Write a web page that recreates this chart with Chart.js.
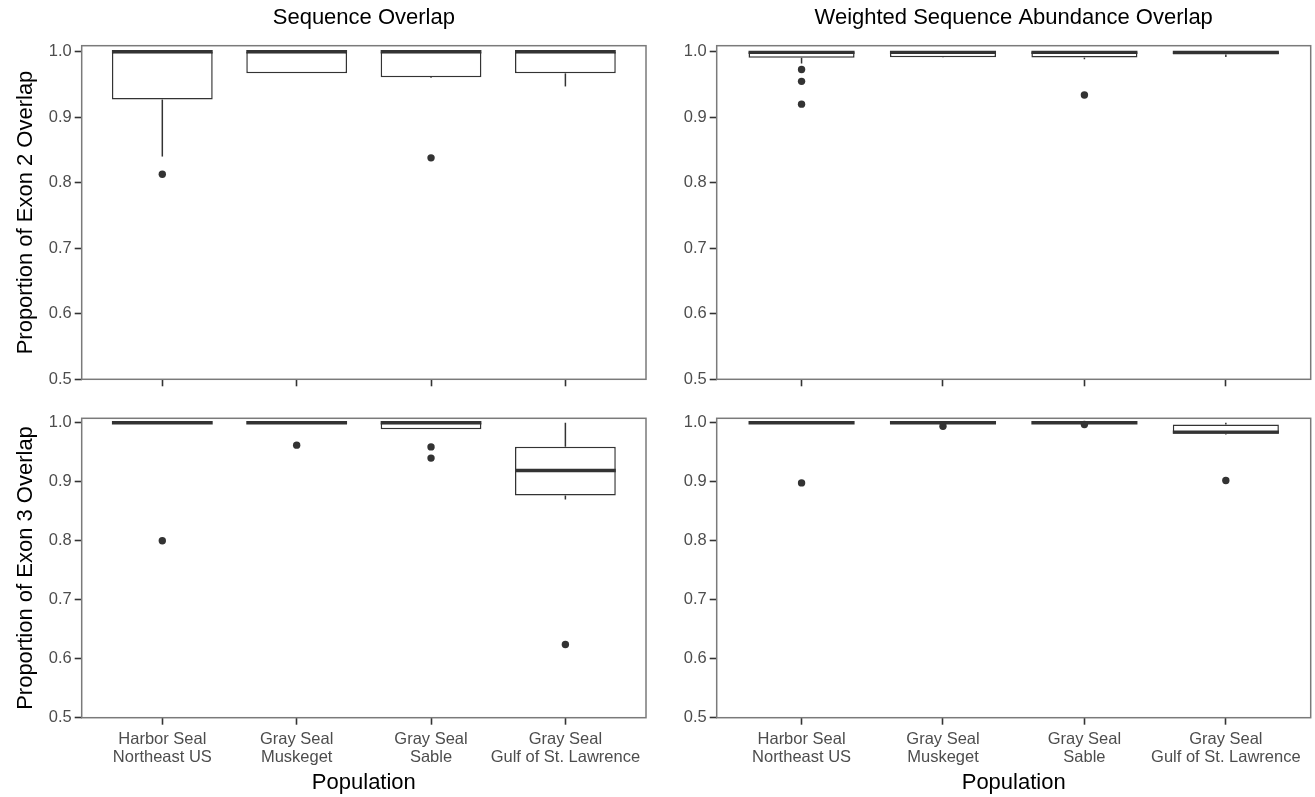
<!DOCTYPE html>
<html><head><meta charset="utf-8">
<script src="https://cdn.jsdelivr.net/npm/chart.js@4"></script>
<style>
html,body{margin:0;padding:0;background:#fff;width:1315px;height:797px;overflow:hidden}
canvas{position:absolute}
</style></head><body>
<canvas id="c1" width="660" height="398" style="left:0;top:0"></canvas>
<canvas id="c2" width="659" height="398" style="left:656px;top:0"></canvas>
<canvas id="c3" width="660" height="399" style="left:0;top:398px"></canvas>
<canvas id="c4" width="659" height="399" style="left:656px;top:398px"></canvas>
<script>
// ---- data ----
const categories = [['Harbor Seal','Northeast US'],['Gray Seal','Muskeget'],['Gray Seal','Sable'],['Gray Seal','Gulf of St. Lawrence']];
const yTicks = [0.5, 0.6, 0.7, 0.8, 0.9, 1.0];
const panelTitles = ['Sequence Overlap', 'Weighted Sequence Abundance Overlap'];
const yTitles = ['Proportion of Exon 2 Overlap', 'Proportion of Exon 3 Overlap'];
const xTitle = 'Population';

// Exon 2, sequence overlap
const e2SeqLow  = [0.840, 0.967, 0.960, 0.947];
const e2SeqQ1   = [0.927, 0.967, 0.961, 0.967];
const e2SeqMed  = [1.000, 1.000, 1.000, 1.000];
const e2SeqQ3   = [1.000, 1.000, 1.000, 1.000];
const e2SeqHigh = [1.000, 1.000, 1.000, 1.000];
const e2SeqOutCat = [0, 2];
const e2SeqOutVal = [0.813, 0.838];

// Exon 2, weighted sequence abundance overlap
const e2WtLow  = [0.982, 0.991, 0.9885, 0.992];
const e2WtQ1   = [0.9908, 0.9915, 0.991, 0.9958];
const e2WtMed  = [0.999, 0.999, 0.999, 0.999];
const e2WtQ3   = [1.000, 1.000, 1.000, 1.000];
const e2WtHigh = [1.000, 1.000, 1.000, 1.000];
const e2WtOutCat = [0, 0, 0, 2];
const e2WtOutVal = [0.9728, 0.9548, 0.920, 0.934];

// Exon 3, sequence overlap
const e3SeqLow  = [1.000, 1.000, 0.989, 0.870];
const e3SeqQ1   = [1.000, 1.000, 0.989, 0.8765];
const e3SeqMed  = [1.000, 1.000, 1.000, 0.919];
const e3SeqQ3   = [1.000, 1.000, 1.000, 0.9592];
const e3SeqHigh = [1.000, 1.000, 1.000, 1.000];
const e3SeqOutCat = [0, 1, 2, 2, 3];
const e3SeqOutVal = [0.800, 0.962, 0.959, 0.940, 0.624];

// Exon 3, weighted sequence abundance overlap
const e3WtLow  = [1.000, 1.000, 1.000, 0.980];
const e3WtQ1   = [1.000, 1.000, 1.000, 0.9814];
const e3WtMed  = [1.000, 1.000, 1.000, 0.984];
const e3WtQ3   = [1.000, 1.000, 1.000, 0.997];
const e3WtHigh = [1.000, 1.000, 1.000, 1.000];
const e3WtOutCat = [0, 1, 2, 3];
const e3WtOutVal = [0.898, 0.994, 0.997, 0.902];

// ---- styling ----
const FONT = "'Liberation Sans', Arial, Helvetica, sans-serif";
const LINE = '#333333';
const TICKTXT = '#4d4d4d';
const FRAME = '#7a7a7a';
Chart.defaults.font.family = FONT;

function boxPlugin(low, q1, med, q3, high) {
  return {
    id: 'boxparts',
    beforeDatasetsDraw(chart) {
      const {ctx, scales: {x, y}} = chart;
      ctx.save();
      ctx.strokeStyle = LINE; ctx.lineWidth = 1.5;
      low.forEach((v, i) => {
        const px = x.getPixelForValue(i + 1);
        ctx.beginPath();
        ctx.moveTo(px, y.getPixelForValue(q3[i])); ctx.lineTo(px, y.getPixelForValue(high[i]));
        ctx.moveTo(px, y.getPixelForValue(q1[i])); ctx.lineTo(px, y.getPixelForValue(low[i]));
        ctx.stroke();
      });
      ctx.restore();
    },
    afterDatasetDraw(chart, args) {
      if (args.index !== 0) return;
      const {ctx, scales: {x, y}} = chart;
      const meta = chart.getDatasetMeta(0);
      ctx.save();
      ctx.strokeStyle = LINE; ctx.lineWidth = 3.4;
      med.forEach((v, i) => {
        const el = meta.data[i];
        const px = x.getPixelForValue(i + 1);
        const hw = el.width / 2;
        const py = y.getPixelForValue(v);
        ctx.beginPath(); ctx.moveTo(px - hw, py); ctx.lineTo(px + hw, py); ctx.stroke();
      });
      ctx.restore();
    },
    afterDatasetsDraw(chart) {
      const {ctx, chartArea: a} = chart;
      ctx.save();
      ctx.strokeStyle = FRAME; ctx.lineWidth = 1.5;
      ctx.strokeRect(a.left, a.top, a.right - a.left, a.bottom - a.top);
      ctx.restore();
    }
  };
}

function makeChart(id, o) {
  const ds = [
    {
      type: 'bar',
      data: o.q1.map((v, i) => ({x: i + 1, y: [o.q1[i], o.q3[i]]})),
      backgroundColor: '#ffffff', borderColor: LINE, borderWidth: 1.5, borderSkipped: false,
      barPercentage: 0.75, categoryPercentage: 1, order: 2
    },
    {
      type: 'scatter',
      data: o.outCat.map((c, k) => ({x: c + 1, y: o.outVal[k]})),
      pointRadius: 3.7, pointBackgroundColor: LINE, pointBorderWidth: 0, order: 1
    }
  ];
  return new Chart(document.getElementById(id), {
    type: 'bar',
    data: {datasets: ds},
    options: {
      responsive: false, animation: false, devicePixelRatio: 1,
      layout: {padding: o.pad},
      plugins: {
        legend: {display: false}, tooltip: {enabled: false},
        title: o.title ? {
          display: true, text: o.title, fullSize: false, color: '#000',
          font: {size: 22, weight: 'normal', family: FONT, lineHeight: 1.2},
          padding: {top: 5, bottom: 14.3}
        } : {display: false}
      },
      scales: {
        x: {
          type: 'linear', min: 0.4, max: 4.6, offset: false,
          afterBuildTicks: s => { s.ticks = categories.map((c, i) => ({value: i + 1})); },
          afterFit: s => { s.height = o.xH; s.paddingLeft = 0; s.paddingRight = 0; },
          grid: {display: true, drawOnChartArea: false, drawTicks: true, tickLength: 7, tickColor: LINE, tickWidth: 1.6, offset: false},
          border: {display: false},
          ticks: {
            display: o.xLabels, autoSkip: false, maxRotation: 0, minRotation: 0, padding: 5.4,
            color: TICKTXT, font: {size: 16.5, family: FONT, lineHeight: 1.115},
            callback: v => categories[Math.round(v) - 1]
          },
          title: o.xLabels ? {display: true, text: xTitle, color: '#000', font: {size: 22, family: FONT, lineHeight: 1.2}, padding: {top: 0, bottom: 0.8}} : {display: false}
        },
        y: {
          type: 'linear', min: 0.5, max: o.yMax,
          afterBuildTicks: s => { s.ticks = yTicks.map(v => ({value: v})); },
          afterFit: s => { s.width = o.yW; s.paddingTop = 0; s.paddingBottom = 0; },
          grid: {display: true, drawOnChartArea: false, drawTicks: true, tickLength: 7, tickColor: LINE, tickWidth: 1.6},
          border: {display: false},
          ticks: {color: TICKTXT, padding: 3, font: {size: 16.5, family: FONT}, callback: v => v.toFixed(1)},
          title: o.yTitle ? {display: true, text: o.yTitle, color: '#000', font: {size: 22, family: FONT, lineHeight: 1.2}, padding: {top: 12.8, bottom: 0}} : {display: false}
        }
      }
    },
    plugins: [boxPlugin(o.low, o.q1, o.med, o.q3, o.high)]
  });
}

makeChart('c1', {low: e2SeqLow, q1: e2SeqQ1, med: e2SeqMed, q3: e2SeqQ3, high: e2SeqHigh,
  outCat: e2SeqOutCat, outVal: e2SeqOutVal, title: panelTitles[0], yTitle: yTitles[0],
  xLabels: false, xH: 18.7, yW: 81.7, yMax: 1.0092, pad: {left: 0, top: 0, right: 14, bottom: 0}});
makeChart('c2', {low: e2WtLow, q1: e2WtQ1, med: e2WtMed, q3: e2WtQ3, high: e2WtHigh,
  outCat: e2WtOutCat, outVal: e2WtOutVal, title: panelTitles[1], yTitle: null,
  xLabels: false, xH: 18.7, yW: 60.7, yMax: 1.0092, pad: {left: 0, top: 0, right: 4.3, bottom: 0}});
makeChart('c3', {low: e3SeqLow, q1: e3SeqQ1, med: e3SeqMed, q3: e3SeqQ3, high: e3SeqHigh,
  outCat: e3SeqOutCat, outVal: e3SeqOutVal, title: null, yTitle: yTitles[1],
  xLabels: true, xH: 79.3, yW: 81.7, yMax: 1.0075, pad: {left: 0, top: 20.3, right: 14, bottom: 0}});
makeChart('c4', {low: e3WtLow, q1: e3WtQ1, med: e3WtMed, q3: e3WtQ3, high: e3WtHigh,
  outCat: e3WtOutCat, outVal: e3WtOutVal, title: null, yTitle: null,
  xLabels: true, xH: 79.3, yW: 60.7, yMax: 1.0075, pad: {left: 0, top: 20.3, right: 4.3, bottom: 0}});
</script>
</body></html>
